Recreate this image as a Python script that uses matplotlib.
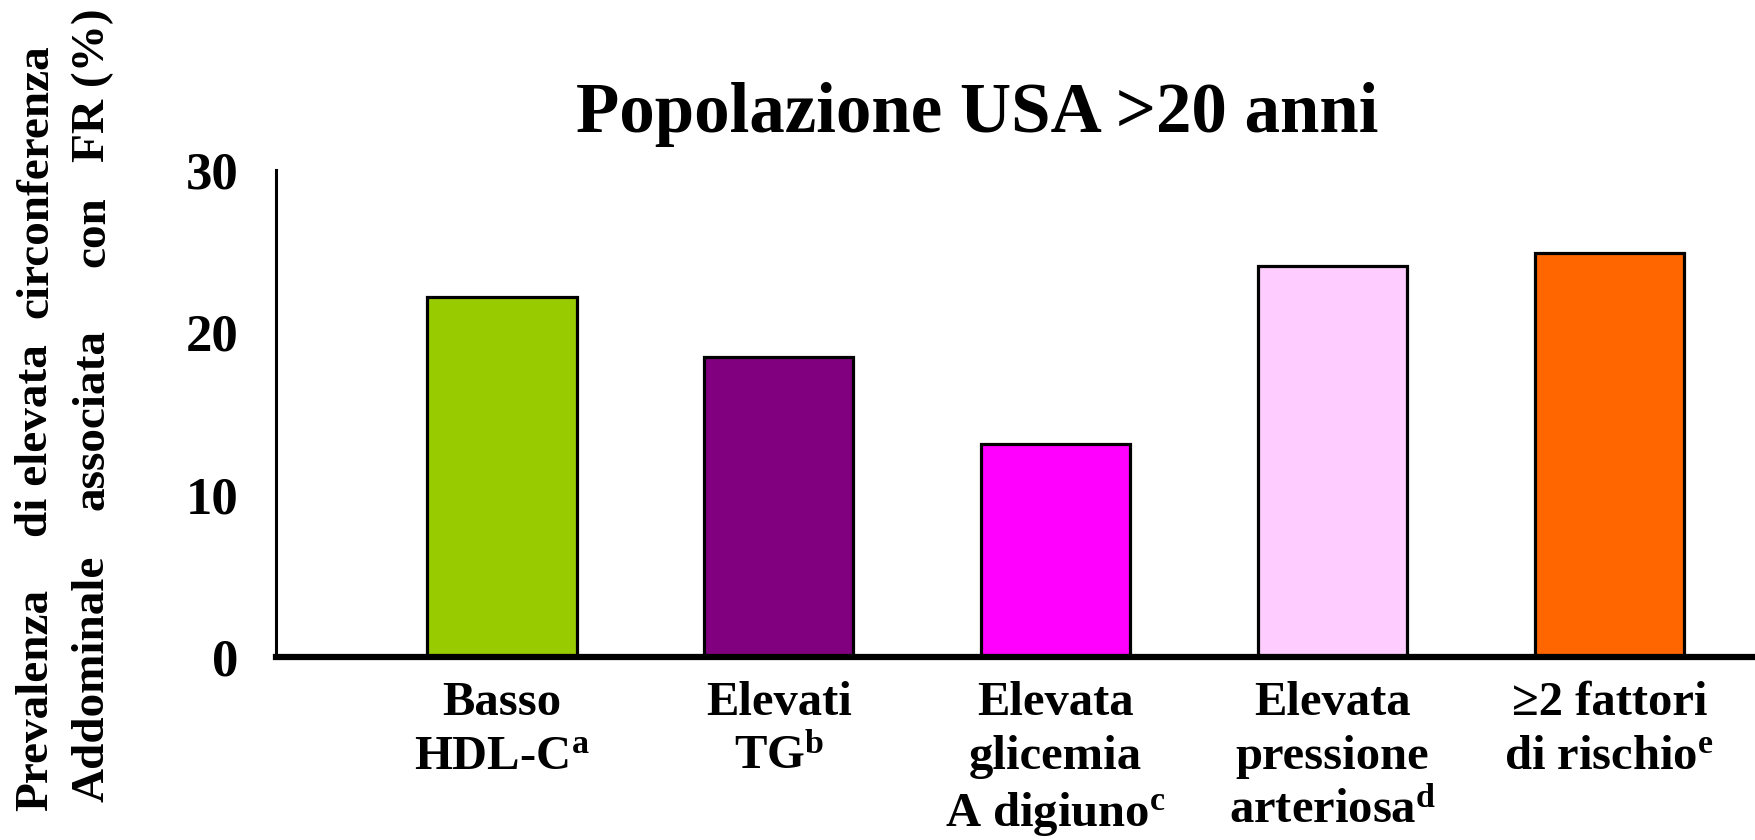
import matplotlib
matplotlib.use("Agg")
import matplotlib.pyplot as plt

plt.rcParams["font.family"] = ["Liberation Serif", "DejaVu Serif"]
plt.rcParams["font.weight"] = "bold"
plt.rcParams["mathtext.fontset"] = "custom"
plt.rcParams["mathtext.rm"] = "Liberation Serif:bold"
plt.rcParams["mathtext.bf"] = "Liberation Serif:bold"
plt.rcParams["mathtext.it"] = "Liberation Serif:bold:italic"

# data
categories = [
    "Basso\nHDL-C$^{\\mathrm{a}}$",
    "Elevati\nTG$^{\\mathrm{b}}$",
    "Elevata\nglicemia\nA digiuno$^{\\mathrm{c}}$",
    "Elevata\npressione\narteriosa$^{\\mathrm{d}}$",
    "≥2 fattori\ndi rischio$^{\\mathrm{e}}$",
]
values = [22.2, 18.5, 13.1, 24.1, 24.9]
colors = ["#99CC00", "#800080", "#FF00FF", "#FFCCFF", "#FF6600"]
yticks = [0, 10, 20, 30]

title = "Popolazione USA >20 anni"
ylabel_line1 = ["Prevalenza", "di elevata", "circonferenza"]
ylabel_line2 = ["Addominale", "associata", "con", "FR (%)"]


def main():
    fig = plt.figure(figsize=(17.56, 8.4), dpi=100)
    ax = fig.add_axes([276 / 1756, 1 - 657 / 840, 1 - 276 / 1756, 487 / 840])

    x = range(len(values))
    ax.bar(x, values, width=0.54, color=colors, edgecolor="black", linewidth=2.3, zorder=2)

    ax.set_xlim(-0.816, 4.53)
    ax.set_ylim(0, 30)
    ax.set_yticks(yticks)
    ax.set_yticklabels([str(t) for t in yticks], fontsize=38, fontweight="bold")
    ax.tick_params(axis="y", length=0, pad=27)
    ax.set_xticks([])

    for side in ["top", "right"]:
        ax.spines[side].set_visible(False)
    ax.spines["left"].set_linewidth(2.2)
    ax.spines["bottom"].set_linewidth(4.5)
    ax.spines["bottom"].set_zorder(3)

    for i, lab in enumerate(categories):
        ax.annotate(lab, xy=(i, 0), xycoords=("data", "axes fraction"),
                    xytext=(0, -17), textcoords="offset points",
                    ha="center", va="top", fontsize=35, fontweight="bold",
                    linespacing=1.3, annotation_clip=False)

    fig.text(977 / 1756, 1 - 132 / 840, title, ha="center", va="baseline",
             fontsize=51, fontweight="bold")

    # justified two-line y label, one word group at a time
    y1 = [700, 441, 181]
    y2 = [679, 420, 232, 85]
    for word, yy in zip(ylabel_line1, y1):
        fig.text(36 / 1756, 1 - yy / 840, word, rotation=90, ha="center", va="center",
                 fontsize=34, fontweight="bold")
    for word, yy in zip(ylabel_line2, y2):
        fig.text(93 / 1756, 1 - yy / 840, word, rotation=90, ha="center", va="center",
                 fontsize=34, fontweight="bold")

    fig.savefig("out.png", dpi=100)


if __name__ == "__main__":
    main()
